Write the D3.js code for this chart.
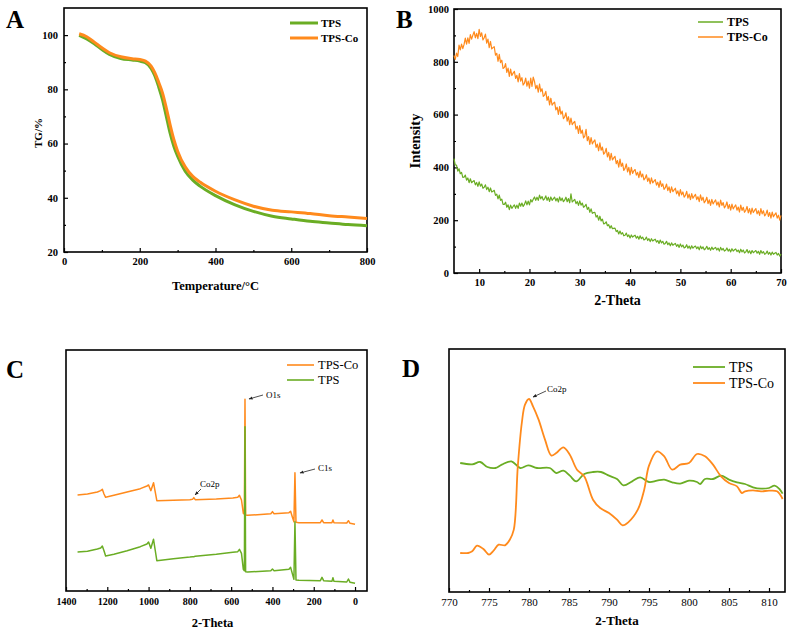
<!DOCTYPE html>
<html><head><meta charset="utf-8">
<script src="https://cdn.jsdelivr.net/npm/d3@7"></script>
<style>body{margin:0;background:#fff}svg{display:block}</style>
</head><body><svg id="c" width="789" height="631"></svg>
<script>
// ---------- Panel A: TG ----------
const tgTemp   = [40,60,80,100,120,150,180,200,215,230,240,250,260,270,280,290,300,320,340,360,400,450,500,550,600,650,700,750,800];
const tgTPS    = [99.9,98.6,96.8,94.7,92.9,91.4,90.8,90.4,89.8,87.7,84.9,80.9,76.2,70.1,63.9,59.0,55.3,49.8,46.5,44.2,40.8,37.5,35.0,33.2,32.2,31.3,30.7,30.1,29.7];
const tgTPSCo  = [100.5,99.4,97.4,95.3,93.5,92.0,91.3,91.0,90.4,88.6,86.1,82.6,78.7,73.2,67.0,61.5,57.2,51.4,47.9,45.7,42.4,39.3,36.9,35.4,34.8,34.2,33.4,32.9,32.4];
const tgXTicks = [0,200,400,600,800];
const tgYTicks = [20,40,60,80,100];

// ---------- Panel B: XRD (scan 5°–70°, step 0.25°) ----------
const xrdStart = 5, xrdStep = 0.25;
const xrdTPSCo = [
824,809,833,820, 863,845,867,850, 866,890,867,891, 870,903,886,901, 914,891,908,888,
923,896,910,883, 891,905,871,886, 854,877,849,854, 857,825,832,802, 828,797,806,775,
778,793,760,776, 745,772,748,757, 764,737,749,724, 755,727,740,712, 719,738,708,727,
700,738,707,742, 726,698,711,685, 716,687,698,669, 674,688,654,669, 637,662,636,643,
647,618,628,601, 630,602,613,585, 591,607,575,592, 562,587,562,569, 574,545,556,529,
558,529,541,512, 518,544,501,517, 487,513,489,498, 504,476,488,463, 493,465,477,450,
456,472,440,457, 427,453,428,436, 442,414,426,401, 431,404,416,389, 396,413,383,400,
372,400,377,387, 392,371,381,361, 386,364,375,353, 359,372,347,360, 338,360,341,348,
354,333,344,324, 349,328,338,317, 323,337,312,326, 304,326,308,315, 321,300,311,291,
316,296,307,287, 294,309,284,299, 278,301,283,291, 298,278,289,270, 296,275,287,266,
273,287,263,277, 256,279,262,270, 277,257,269,250, 276,256,267,247, 254,269,244,259,
238,261,243,251, 258,238,250,231, 257,237,249,230, 237,252,228,244, 223,246,229,237,
244,224,236,218, 244,224,236,216, 223,238,214,229, 208,231,213,221, 228,208,219,200,
218];
const xrdTPS = [
433,409,409,386, 395,376,381,362, 363,371,352,360, 342,357,342,347, 350,334,343,328,
345,329,337,321, 325,334,316,325, 308,322,307,310, 313,294,299,281, 295,275,280,260,
260,268,249,258, 240,257,245,252, 258,245,257,245, 265,253,265,252, 260,273,258,272,
258,278,269,279, 288,275,287,275, 295,281,290,276, 281,292,275,287, 271,288,275,282,
287,273,283,269, 288,274,284,270, 276,287,270,282, 266,300,269,274, 279,263,271,256,
273,257,265,249, 253,260,241,249, 230,243,226,229, 230,212,218,200, 215,197,204,186,
188,194,179,183, 170,179,168,169, 170,157,161,148, 159,147,153,141, 143,151,138,144,
133,144,136,140, 143,132,139,128, 141,130,136,125, 128,136,123,130, 119,130,121,125,
128,117,123,112, 125,114,120,109, 112,120,107,114, 103,114,105,109, 112,101,108,97,
110,99,106,95, 98,107,94,102, 91,103,94,99, 102,92,99,88, 102,92,99,88,
92,101,89,96, 86,98,89,94, 97,87,94,83, 97,87,93,83, 86,95,83,90,
80,92,83,88, 91,81,87,77, 90,80,87,76, 80,89,76,84, 73,85,77,81,
85,75,82,71, 85,75,81,71, 74,83,71,78, 68,79,71,75, 78,68,74,64,
72];
const xrdXTicks = [10,20,30,40,50,60,70];
const xrdYTicks = [0,200,400,600,800,1000];

// ---------- Panel C: XPS survey ----------
const surveyBE    = [1344,1296,1248,1232,1224,1216,1208,1168,1104,1040,1008,1000,989,976,968,960,880,800,787,781,774,672,592,568,560,550,541,536,533,530,520,408,400,392,320,312,304,296,291,286,272,168,160,152,112,107,102,40,32,24,0];
const surveyTPSCo = [288,291,297,301,305,291,281,287,297,307,315,318,301,325,298,271,272,274,275,280,274,276,279,281,287,273,233,231,575,228,227,232,238,232,235,239,223,208,355,206,205,205,213,205,205,213,205,204,211,203,200];
const surveyTPS   = [117,119,126,129,135,121,105,110,121,133,141,147,128,155,123,91,97,102,103,103,104,110,116,118,125,113,65,61,493,58,57,61,66,61,65,71,53,35,208,33,32,31,41,31,29,40,29,27,36,26,23];
const surveyXTicks = [1400,1200,1000,800,600,400,200,0];

// ---------- Panel D: Co2p high resolution ----------
const coBE_TPSCo = [771.4,772.4,772.9,773.5,774.3,775.0,775.6,776.2,777.0,777.6,778.1,778.6,779.1,779.5,780.0,780.5,781.2,782.0,782.8,783.4,784.3,785.1,786.0,786.9,788.0,788.9,790.0,791.0,791.7,792.4,793.6,794.4,795.0,796.0,796.9,797.9,798.9,800.0,801.0,802.0,803.0,804.0,805.0,806.0,806.6,807.0,808.0,809.0,810.0,811.0,811.7];
const coI_TPSCo  = [117,117,122,139,129,112,125,142,140,157,187,377,507,562,579,557,517,457,409,417,434,412,367,347,277,252,237,217,200,209,247,307,379,422,407,367,382,387,414,407,382,347,327,317,297,302,305,302,304,302,279];
const coBE_TPS   = [771.4,772.9,773.9,774.8,775.8,776.6,777.8,778.9,779.9,781.0,782.6,783.4,784.3,785.1,785.9,786.9,788.0,789.0,790.0,791.0,791.8,792.9,793.9,795.0,796.0,796.9,797.9,798.9,800.0,801.0,801.4,802.0,803.0,804.0,805.0,806.0,807.0,808.0,809.0,810.0,810.7,811.3,811.7];
const coI_TPS    = [387,383,390,375,372,382,392,372,380,372,372,357,364,349,332,354,360,360,349,339,320,332,344,330,334,337,329,325,334,330,324,339,339,349,337,329,324,314,310,312,319,309,295];
const coXTicks = [770,775,780,785,790,795,800,805,810];

// ---------- drawing ----------
const SERIF = '"Liberation Serif","Times New Roman",serif';
const GREEN = '#6aad24', ORANGE = '#ff8a1c';
const svg = d3.select('#c');
const defs = svg.append('defs');
defs.append('marker').attr('id','arr').attr('viewBox','0 0 10 10').attr('refX',9).attr('refY',5)
  .attr('markerWidth',5).attr('markerHeight',5).attr('orient','auto')
  .append('path').attr('d','M0,1L10,5L0,9z').attr('fill','#222');

function panel(o){
  const g = svg.append('g');
  const x = d3.scaleLinear().domain(o.xDomain).range([o.l,o.r]);
  const y = d3.scaleLinear().domain(o.yDomain).range([o.b,o.t]);
  const styleTicks = (sel, fs, fw) => {
    sel.select('.domain').remove();
    sel.selectAll('line').attr('stroke','#000').attr('stroke-width',1.2);
    sel.selectAll('text').attr('fill','#000').style('font-family',SERIF).style('font-size',fs+'px').style('font-weight',fw);
  };
  const xa = g.append('g').attr('transform',`translate(0,${o.b})`)
    .call(d3.axisBottom(x).tickValues(o.xTicks).tickSize(-4).tickPadding(o.xPad).tickFormat(d3.format('d')));
  styleTicks(xa, o.tickFs, o.tickFw);
  if (o.xMinor) {
    const xm = g.append('g').attr('transform',`translate(0,${o.b})`)
      .call(d3.axisBottom(x).tickValues(o.xMinor).tickSize(-2).tickFormat(''));
    styleTicks(xm, o.tickFs, o.tickFw);
  }
  if (o.yTicks) {
    const ya = g.append('g').attr('transform',`translate(${o.l},0)`)
      .call(d3.axisLeft(y).tickValues(o.yTicks).tickSize(-4).tickPadding(o.yPad).tickFormat(d3.format('d')));
    styleTicks(ya, o.tickFs, o.tickFw);
    const ym = g.append('g').attr('transform',`translate(${o.l},0)`)
      .call(d3.axisLeft(y).tickValues(o.yMinor).tickSize(-2).tickFormat(''));
    styleTicks(ym, o.tickFs, o.tickFw);
  }
  g.append('rect').attr('x',o.l).attr('y',o.t).attr('width',o.r-o.l).attr('height',o.b-o.t)
    .attr('fill','none').attr('stroke','#000').attr('stroke-width',1.6);
  // panel letter
  g.append('text').attr('x',o.letterX).attr('y',o.letterY).text(o.letter)
    .style('font-family',SERIF).style('font-weight','bold').style('font-size','25px');
  // x title
  g.append('text').attr('x',(o.l+o.r)/2 + (o.xTitleDx||0)).attr('y',o.xTitleY).attr('text-anchor','middle')
    .text(o.xTitle).style('font-family',SERIF).style('font-weight','bold').style('font-size',o.xTitleFs+'px');
  if (o.yTitle) {
    g.append('text').attr('transform',`translate(${o.yTitleX},${(o.t+o.b)/2 + (o.yTitleDy||0)}) rotate(-90)`)
      .attr('text-anchor','middle').text(o.yTitle)
      .style('font-family',SERIF).style('font-weight','bold').style('font-size',o.yTitleFs+'px');
  }
  return {g,x,y};
}
function legend(g, items, o){
  items.forEach((it,i)=>{
    const yy = o.y + i*o.dy;
    g.append('line').attr('x1',o.x1).attr('x2',o.x2).attr('y1',yy).attr('y2',yy)
      .attr('stroke',it.color).attr('stroke-width',o.sw);
    g.append('text').attr('x',o.tx).attr('y',yy+o.fs*0.35).text(it.name)
      .style('font-family',SERIF).style('font-weight',o.fw).style('font-size',o.fs+'px');
  });
}
function series(p, xs, ys, color, sw, curve){
  p.g.append('path').datum(xs.map((v,i)=>[v,ys[i]]))
    .attr('fill','none').attr('stroke',color).attr('stroke-width',sw).attr('stroke-linejoin','round')
    .attr('d', d3.line().x(d=>p.x(d[0])).y(d=>p.y(d[1])).curve(curve||d3.curveLinear));
}
function annot(p, txt, tx, ty, ax1, ay1, ax2, ay2, fs){
  p.g.append('line').attr('x1',ax1).attr('y1',ay1).attr('x2',ax2).attr('y2',ay2)
    .attr('stroke','#222').attr('stroke-width',0.8).attr('marker-end','url(#arr)');
  p.g.append('text').attr('x',tx).attr('y',ty).text(txt)
    .style('font-family',SERIF).style('font-size',fs+'px');
}

// Panel A
const A = panel({l:64,r:367,t:8,b:252,xDomain:[0,800],yDomain:[20,110],
  xTicks:tgXTicks,xMinor:[100,300,500,700],yTicks:tgYTicks,yMinor:[30,50,70,90],
  xPad:6,yPad:6,tickFs:10.5,tickFw:'bold',letter:'A',letterX:6,letterY:28,
  xTitle:'Temperature/°C',xTitleY:290,xTitleFs:12.5,yTitle:'TG/%',yTitleX:42,yTitleFs:11,yTitleDy:3});
series(A, tgTemp, tgTPS, GREEN, 3, d3.curveMonotoneX);
series(A, tgTemp, tgTPSCo, ORANGE, 3, d3.curveMonotoneX);
legend(A.g,[{name:'TPS',color:GREEN},{name:'TPS-Co',color:ORANGE}],{x1:290,x2:318,tx:321,y:23,dy:15,sw:3,fs:11,fw:'bold'});

// Panel B
const B = panel({l:454,r:781,t:9,b:273,xDomain:[5,70],yDomain:[0,1000],
  xTicks:xrdXTicks,xMinor:[15,25,35,45,55,65],yTicks:xrdYTicks,yMinor:[100,300,500,700,900],
  xPad:6,yPad:5,tickFs:10.5,tickFw:'bold',letter:'B',letterX:396,letterY:28,
  xTitle:'2-Theta',xTitleY:305,xTitleFs:14,yTitle:'Intensity',yTitleX:420,yTitleFs:14.5,yTitleDy:0});
const xrdTheta = d3.range(xrdTPS.length).map(i=>xrdStart + i*xrdStep);
series(B, xrdTheta, xrdTPS, GREEN, 1.2);
series(B, xrdTheta, xrdTPSCo, ORANGE, 1.2);
legend(B.g,[{name:'TPS',color:GREEN},{name:'TPS-Co',color:ORANGE}],{x1:698,x2:723,tx:727,y:22,dy:15,sw:1.5,fs:12,fw:'bold'});

// Panel C
const C = panel({l:66,r:367,t:350,b:591,xDomain:[1400,-58],yDomain:[0,723],
  xTicks:surveyXTicks,xMinor:[1300,1100,900,700,500,300,100],
  xPad:7,tickFs:10,tickFw:'bold',letter:'C',letterX:6,letterY:378,
  xTitle:'2-Theta',xTitleY:627,xTitleFs:12.5,xTitleDx:-4});
series(C, surveyBE, surveyTPSCo, ORANGE, 1.5);
series(C, surveyBE, surveyTPS, GREEN, 1.5);
legend(C.g,[{name:'TPS-Co',color:ORANGE},{name:'TPS',color:GREEN}],{x1:287,x2:314,tx:318,y:365,dy:15,sw:1.6,fs:12.5,fw:'normal'});
annot(C,'O1s',266,398, 263,395, 249,399, 9);
annot(C,'C1s',318,471, 315,469, 300,473, 9);
annot(C,'Co2p',200,487, 201,489, 195,495, 9);

// Panel D
const D = panel({l:449,r:785,t:349,b:592,xDomain:[770,812],yDomain:[0,729],
  xTicks:coXTicks,xMinor:[772.5,777.5,782.5,787.5,792.5,797.5,802.5,807.5],
  xPad:6,tickFs:11,tickFw:'normal',letter:'D',letterX:402,letterY:377,
  xTitle:'2-Theta',xTitleY:625,xTitleFs:13});
series(D, coBE_TPS, coI_TPS, GREEN, 1.8, d3.curveCatmullRom);
series(D, coBE_TPSCo, coI_TPSCo, ORANGE, 1.8, d3.curveCatmullRom);
legend(D.g,[{name:'TPS',color:GREEN},{name:'TPS-Co',color:ORANGE}],{x1:693,x2:725,tx:729,y:367,dy:16,sw:1.8,fs:14,fw:'normal'});
annot(D,'Co2p',547,392, 546,391, 533,397, 9);
</script></body></html>
